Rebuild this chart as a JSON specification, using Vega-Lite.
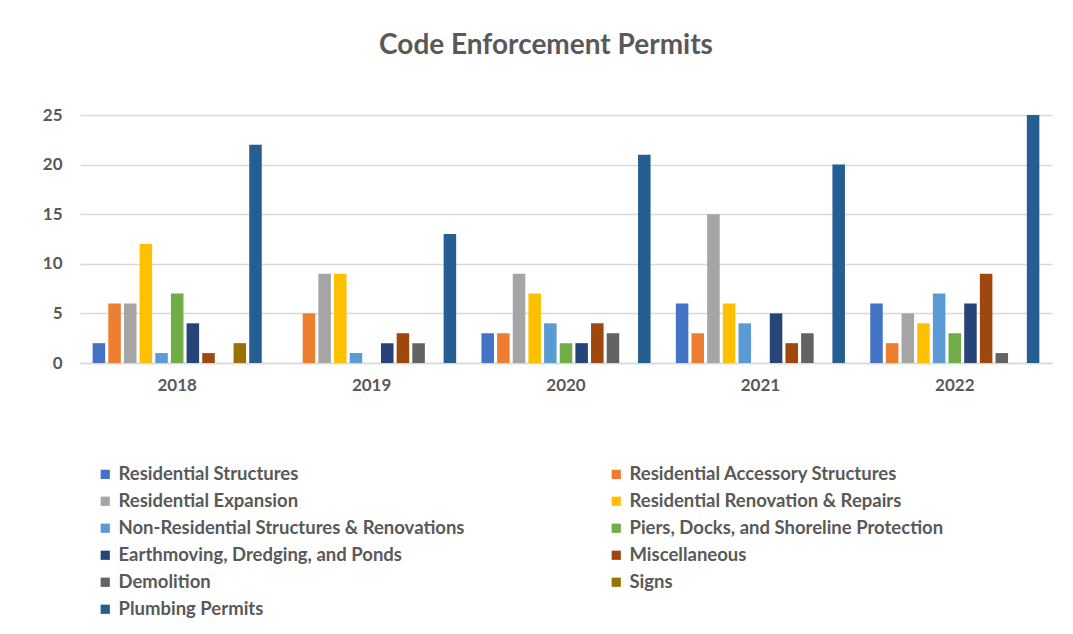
{
  "$schema": "https://vega.github.io/schema/vega-lite/v6.json",
  "autosize": "none",
  "width": 972,
  "height": 248,
  "padding": {"left": 80, "top": 115, "right": 21, "bottom": 271},
  "background": "white",
  "title": {
    "text": "Code Enforcement Permits",
    "font": "Lato",
    "fontSize": 28,
    "fontWeight": "bold",
    "color": "#595959",
    "anchor": "middle",
    "frame": "group",
    "dx": -20,
    "offset": 46
  },
  "data": {
    "values": [
      {"year": "2018", "category": "Residential Structures", "count": 2},
      {"year": "2018", "category": "Residential Accessory Structures", "count": 6},
      {"year": "2018", "category": "Residential Expansion", "count": 6},
      {"year": "2018", "category": "Residential Renovation & Repairs", "count": 12},
      {"year": "2018", "category": "Non-Residential Structures & Renovations", "count": 1},
      {"year": "2018", "category": "Piers, Docks, and Shoreline Protection", "count": 7},
      {"year": "2018", "category": "Earthmoving, Dredging, and Ponds", "count": 4},
      {"year": "2018", "category": "Miscellaneous", "count": 1},
      {"year": "2018", "category": "Demolition", "count": 0},
      {"year": "2018", "category": "Signs", "count": 2},
      {"year": "2018", "category": "Plumbing Permits", "count": 22},
      {"year": "2019", "category": "Residential Structures", "count": 0},
      {"year": "2019", "category": "Residential Accessory Structures", "count": 5},
      {"year": "2019", "category": "Residential Expansion", "count": 9},
      {"year": "2019", "category": "Residential Renovation & Repairs", "count": 9},
      {"year": "2019", "category": "Non-Residential Structures & Renovations", "count": 1},
      {"year": "2019", "category": "Piers, Docks, and Shoreline Protection", "count": 0},
      {"year": "2019", "category": "Earthmoving, Dredging, and Ponds", "count": 2},
      {"year": "2019", "category": "Miscellaneous", "count": 3},
      {"year": "2019", "category": "Demolition", "count": 2},
      {"year": "2019", "category": "Signs", "count": 0},
      {"year": "2019", "category": "Plumbing Permits", "count": 13},
      {"year": "2020", "category": "Residential Structures", "count": 3},
      {"year": "2020", "category": "Residential Accessory Structures", "count": 3},
      {"year": "2020", "category": "Residential Expansion", "count": 9},
      {"year": "2020", "category": "Residential Renovation & Repairs", "count": 7},
      {"year": "2020", "category": "Non-Residential Structures & Renovations", "count": 4},
      {"year": "2020", "category": "Piers, Docks, and Shoreline Protection", "count": 2},
      {"year": "2020", "category": "Earthmoving, Dredging, and Ponds", "count": 2},
      {"year": "2020", "category": "Miscellaneous", "count": 4},
      {"year": "2020", "category": "Demolition", "count": 3},
      {"year": "2020", "category": "Signs", "count": 0},
      {"year": "2020", "category": "Plumbing Permits", "count": 21},
      {"year": "2021", "category": "Residential Structures", "count": 6},
      {"year": "2021", "category": "Residential Accessory Structures", "count": 3},
      {"year": "2021", "category": "Residential Expansion", "count": 15},
      {"year": "2021", "category": "Residential Renovation & Repairs", "count": 6},
      {"year": "2021", "category": "Non-Residential Structures & Renovations", "count": 4},
      {"year": "2021", "category": "Piers, Docks, and Shoreline Protection", "count": 0},
      {"year": "2021", "category": "Earthmoving, Dredging, and Ponds", "count": 5},
      {"year": "2021", "category": "Miscellaneous", "count": 2},
      {"year": "2021", "category": "Demolition", "count": 3},
      {"year": "2021", "category": "Signs", "count": 0},
      {"year": "2021", "category": "Plumbing Permits", "count": 20},
      {"year": "2022", "category": "Residential Structures", "count": 6},
      {"year": "2022", "category": "Residential Accessory Structures", "count": 2},
      {"year": "2022", "category": "Residential Expansion", "count": 5},
      {"year": "2022", "category": "Residential Renovation & Repairs", "count": 4},
      {"year": "2022", "category": "Non-Residential Structures & Renovations", "count": 7},
      {"year": "2022", "category": "Piers, Docks, and Shoreline Protection", "count": 3},
      {"year": "2022", "category": "Earthmoving, Dredging, and Ponds", "count": 6},
      {"year": "2022", "category": "Miscellaneous", "count": 9},
      {"year": "2022", "category": "Demolition", "count": 1},
      {"year": "2022", "category": "Signs", "count": 0},
      {"year": "2022", "category": "Plumbing Permits", "count": 25}
    ]
  },
  "mark": {"type": "bar"},
  "encoding": {
    "x": {
      "field": "year",
      "type": "nominal",
      "scale": {"paddingInner": 0.13, "paddingOuter": 0.065},
      "axis": {
        "title": null,
        "labelAngle": 0,
        "ticks": false,
        "domain": true,
        "domainColor": "#d9d9d9",
        "domainWidth": 1.5,
        "labelFont": "Lato",
        "labelFontSize": 17,
        "labelFontWeight": "bold",
        "labelColor": "#595959",
        "labelPadding": 14
      }
    },
    "xOffset": {
      "field": "category",
      "type": "nominal",
      "sort": [
        "Residential Structures",
        "Residential Accessory Structures",
        "Residential Expansion",
        "Residential Renovation & Repairs",
        "Non-Residential Structures & Renovations",
        "Piers, Docks, and Shoreline Protection",
        "Earthmoving, Dredging, and Ponds",
        "Miscellaneous",
        "Demolition",
        "Signs",
        "Plumbing Permits"
      ],
      "scale": {"paddingInner": 0.2, "paddingOuter": 0}
    },
    "y": {
      "field": "count",
      "type": "quantitative",
      "scale": {"domain": [0, 25]},
      "axis": {
        "title": null,
        "values": [0, 5, 10, 15, 20, 25],
        "domain": false,
        "ticks": false,
        "grid": true,
        "gridColor": "#d9d9d9",
        "gridWidth": 1.5,
        "labelFont": "Lato",
        "labelFontSize": 17,
        "labelFontWeight": "bold",
        "labelColor": "#595959",
        "labelPadding": 18
      }
    },
    "color": {
      "field": "category",
      "type": "nominal",
      "scale": {
        "domain": [
          "Residential Structures",
          "Residential Accessory Structures",
          "Residential Expansion",
          "Residential Renovation & Repairs",
          "Non-Residential Structures & Renovations",
          "Piers, Docks, and Shoreline Protection",
          "Earthmoving, Dredging, and Ponds",
          "Miscellaneous",
          "Demolition",
          "Signs",
          "Plumbing Permits"
        ],
        "range": ["#4472C4", "#ED7D31", "#A5A5A5", "#FFC000", "#5B9BD5", "#70AD47", "#264478", "#9E480E", "#636363", "#997300", "#255E91"]
      },
      "legend": {
        "title": null,
        "orient": "none",
        "legendX": 16,
        "legendY": 350,
        "columns": 2,
        "columnPadding": 142,
        "rowPadding": 8,
        "values": [
          "Residential Structures",
          "Residential Expansion",
          "Non-Residential Structures & Renovations",
          "Earthmoving, Dredging, and Ponds",
          "Demolition",
          "Plumbing Permits",
          "Residential Accessory Structures",
          "Residential Renovation & Repairs",
          "Piers, Docks, and Shoreline Protection",
          "Miscellaneous",
          "Signs"
        ],
        "symbolType": "square",
        "symbolSize": 85,
        "symbolStrokeWidth": 0,
        "symbolOffset": 0,
        "labelOffset": 4,
        "labelFont": "Lato",
        "labelFontSize": 18.5,
        "labelFontWeight": "bold",
        "labelColor": "#595959",
        "labelLimit": 600
      }
    }
  },
  "config": {
    "view": {"stroke": null}
  }
}
